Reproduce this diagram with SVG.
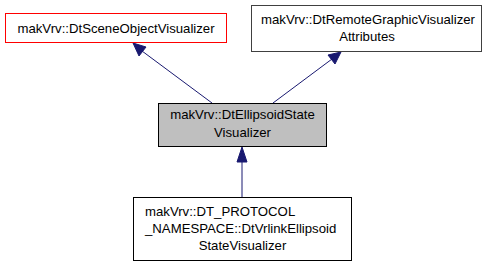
<svg xmlns="http://www.w3.org/2000/svg" width="493" height="267" viewBox="0 0 493 267">
<style>
text{font-family:"Liberation Sans",Arial,sans-serif;font-size:13.2px;fill:#000}
.m{text-anchor:middle}
.s{text-anchor:start}
.box{fill:#fff;stroke:#000;stroke-width:1}
.edge{stroke:#191970;stroke-width:1;fill:none}
.head{fill:#191970;stroke:#191970;stroke-width:1}
</style>
<rect width="493" height="267" fill="#fff"/>
<g id="connectors">
<line class="edge" x1="212" y1="103" x2="142" y2="51"/>
<polygon class="head" points="133,43 146,47 139,56"/>
<line class="edge" x1="273" y1="103" x2="332" y2="59"/>
<polygon class="head" points="341,52 335,64 328,55"/>
<line class="edge" x1="242" y1="197" x2="242" y2="160"/>
<polygon class="head" points="242,147 247,162 237,162"/>
</g>
<g id="node_scene">
<rect class="box" x="5.5" y="13.5" width="221" height="29" style="stroke:#ff0000"/>
<text class="m" x="116" y="33">makVrv::DtSceneObjectVisualizer</text>
</g>
<g id="node_remote">
<rect class="box" x="251.5" y="5.5" width="230" height="46" style="stroke:#404040"/>
<text class="s" x="261" y="24">makVrv::DtRemoteGraphicVisualizer</text>
<text class="m" x="367" y="41">Attributes</text>
</g>
<g id="node_ellipsoid">
<rect class="box" x="158.5" y="103.5" width="168" height="43" style="fill:#bfbfbf"/>
<text class="m" x="242.5" y="119">makVrv::DtEllipsoidState</text>
<text class="m" x="242.5" y="136.5">Visualizer</text>
</g>
<g id="node_vrlink">
<rect class="box" x="133.5" y="197.5" width="218" height="63"/>
<text class="s" x="145" y="216">makVrv::DT_PROTOCOL</text>
<text class="s" x="145" y="233">_NAMESPACE::DtVrlinkEllipsoid</text>
<text class="m" x="242.5" y="250">StateVisualizer</text>
</g>
</svg>
